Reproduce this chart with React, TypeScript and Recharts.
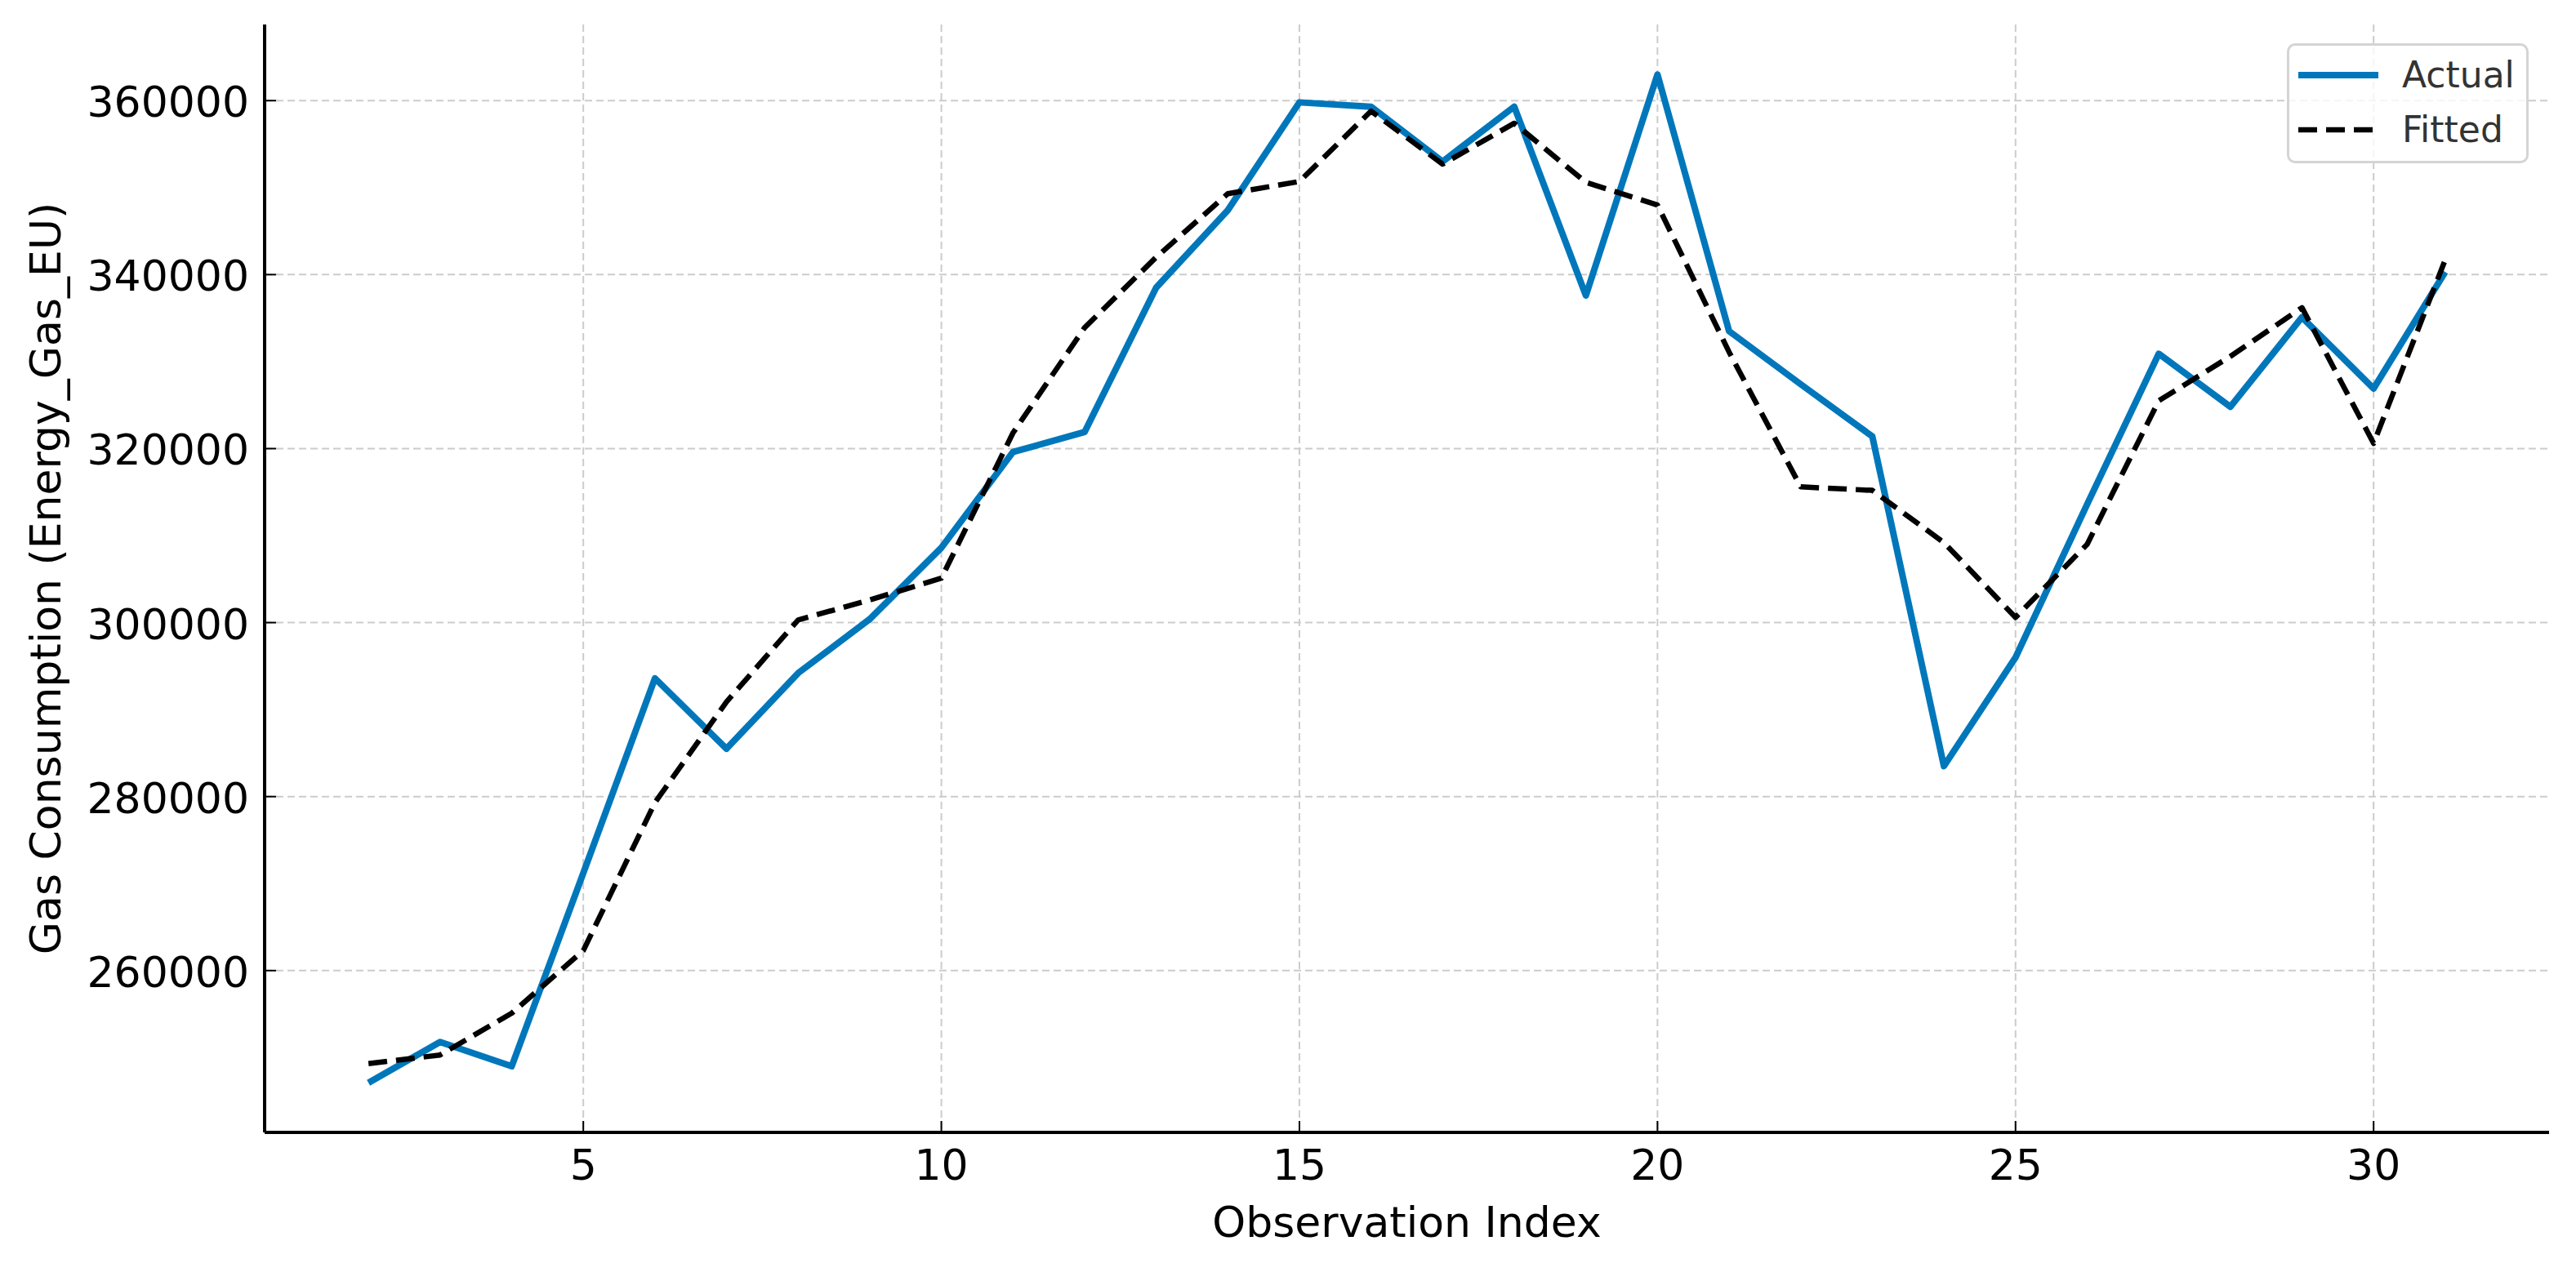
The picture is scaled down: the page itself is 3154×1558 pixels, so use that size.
import React from 'react';
import {
  LineChart,
  Line,
  XAxis,
  YAxis,
  CartesianGrid,
  Legend,
} from 'recharts';

document.body.style.margin = '0';

const observationIndex = [
  2, 3, 4, 5, 6, 7, 8, 9, 10, 11, 12, 13, 14, 15, 16,
  17, 18, 19, 20, 21, 22, 23, 24, 25, 26, 27, 28, 29, 30, 31,
];
const actualValues = [
  247100, 251800, 249000, 271200, 293600, 285500, 294200, 300400, 308600, 319600,
  321900, 338500, 347400, 359800, 359300, 353000, 359300, 337600, 363000, 333500,
  327400, 321400, 283500, 296000, 313600, 330900, 324800, 335100, 326900, 340300,
];
const fittedValues = [
  249300, 250300, 255100, 262300, 279300, 290900, 300300, 302600, 305100, 321800,
  333900, 342000, 349300, 350700, 358800, 352700, 357400, 350600, 348000, 331100,
  315600, 315200, 309200, 300600, 309000, 325500, 330600, 336200, 320600, 341700,
];
const xTicks = [5, 10, 15, 20, 25, 30];
const yTicks = [260000, 280000, 300000, 320000, 340000, 360000];

const chartData = observationIndex.map((idx, i) => ({
  idx,
  actual: actualValues[i],
  fitted: fittedValues[i],
}));

const W = 3154;
const H = 1558;
const PLOT_LEFT = 324;
const PLOT_TOP = 30;
const PLOT_RIGHT = 3121;
const PLOT_BOTTOM = 1387;
const FONT = '"DejaVu Sans", sans-serif';
const BLUE = '#0077BB';

/**
 * Y tick: label on the left, short tick pointing into the plot
 */
function YTick({ y, payload }: any) {
  return (
    <g>
      <line x1={PLOT_LEFT} x2={PLOT_LEFT + 14} y1={y} y2={y} stroke="#000" strokeWidth={2} />
      <text
        x={PLOT_LEFT - 19}
        y={y + 20}
        textAnchor="end"
        fontSize={52}
        fontFamily={FONT}
        fill="#000"
      >
        {payload.value}
      </text>
    </g>
  );
}

/**
 * X tick: label below, short tick pointing up into the plot
 */
function XTick({ x, payload }: any) {
  return (
    <g>
      <line x1={x} x2={x} y1={PLOT_BOTTOM} y2={PLOT_BOTTOM - 14} stroke="#000" strokeWidth={2} />
      <text x={x} y={1445} textAnchor="middle" fontSize={52} fontFamily={FONT} fill="#000">
        {payload.value}
      </text>
    </g>
  );
}

function LegendBox() {
  const rows = [
    { name: 'Actual', color: BLUE, width: 8, dash: undefined },
    { name: 'Fitted', color: '#000', width: 6.5, dash: '23 11' },
  ];
  return (
    <div
      style={{
        width: 290,
        height: 141,
        border: '3px solid #d4d4d4',
        borderRadius: 10,
        background: 'rgba(255,255,255,0.8)',
        position: 'relative',
      }}
    >
      {rows.map((r, i) => (
        <div key={r.name} style={{ position: 'absolute', left: 8, top: 14 + i * 67, height: 44 }}>
          <svg width={104} height={44} style={{ position: 'absolute', left: 0, top: 0 }}>
            <line
              x1={3}
              x2={101}
              y1={22}
              y2={22}
              stroke={r.color}
              strokeWidth={r.width}
              strokeDasharray={r.dash}
            />
          </svg>
          <span
            style={{
              position: 'absolute',
              left: 130,
              top: 0,
              fontFamily: FONT,
              fontSize: 44,
              lineHeight: '44px',
              color: '#333',
              whiteSpace: 'nowrap',
            }}
          >
            {r.name}
          </span>
        </div>
      ))}
    </div>
  );
}

function YLabel() {
  const cx = 56;
  const cy = (PLOT_TOP + PLOT_BOTTOM) / 2;
  return (
    <text
      x={cx}
      y={cy}
      transform={`rotate(-90 ${cx} ${cy})`}
      textAnchor="middle"
      dominantBaseline="central"
      fontSize={52}
      fontFamily={FONT}
      fill="#000"
    >
      Gas Consumption (Energy_Gas_EU)
    </text>
  );
}

function XLabel() {
  return (
    <text
      x={(PLOT_LEFT + PLOT_RIGHT) / 2}
      y={1515}
      textAnchor="middle"
      fontSize={52}
      fontFamily={FONT}
      fill="#000"
    >
      Observation Index
    </text>
  );
}

export default function App() {
  return (
    <div style={{ width: W, height: H, background: '#fff', position: 'relative' }}>
      <LineChart
        width={W}
        height={H}
        data={chartData}
        margin={{ top: PLOT_TOP, right: W - PLOT_RIGHT, bottom: 0, left: 0 }}
      >
        <CartesianGrid
          stroke="#cccccc"
          strokeWidth={2}
          strokeDasharray="9 5"
          horizontalValues={yTicks}
          verticalValues={xTicks}
        />
        <XAxis
          type="number"
          dataKey="idx"
          domain={[0.55, 32.45]}
          ticks={xTicks}
          allowDataOverflow
          height={H - PLOT_BOTTOM}
          axisLine={{ stroke: '#000', strokeWidth: 4 }}
          tickLine={false}
          tick={<XTick />}
          label={<XLabel />}
        />
        <YAxis
          type="number"
          domain={[241400, 368750]}
          ticks={yTicks}
          allowDataOverflow
          width={PLOT_LEFT}
          axisLine={{ stroke: '#000', strokeWidth: 4 }}
          tickLine={false}
          tick={<YTick />}
          label={<YLabel />}
        />
        <Legend
          layout="vertical"
          align="center"
          verticalAlign="middle"
          content={<LegendBox />}
          wrapperStyle={{ left: 2800, top: 53, width: 296, height: 147 }}
        />
        <Line
          name="Actual"
          dataKey="actual"
          stroke={BLUE}
          strokeWidth={8}
          strokeLinejoin="round"
          dot={false}
          isAnimationActive={false}
        />
        <Line
          name="Fitted"
          dataKey="fitted"
          stroke="#000"
          strokeWidth={6.5}
          strokeDasharray="23 11"
          strokeLinejoin="round"
          dot={false}
          isAnimationActive={false}
        />
      </LineChart>
    </div>
  );
}
